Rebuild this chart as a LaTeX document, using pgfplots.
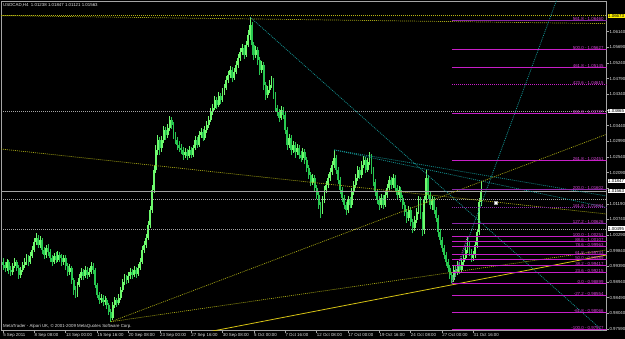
\documentclass[border=0pt]{standalone}
\usepackage{fontspec}
\setmainfont{Liberation Sans}
\usepackage{pgfplots}
\usepackage{pgfplotstable}
\pgfplotsset{compat=1.18}
\definecolor{bullc}{RGB}{110,250,110}
\definecolor{bearc}{RGB}{40,200,80}
\definecolor{tealc}{RGB}{20,150,150}
\definecolor{olivec}{RGB}{165,165,20}
\definecolor{goldc}{RGB}{215,195,20}
\definecolor{fibc}{RGB}{200,30,200}
\definecolor{fibd}{RGB}{140,40,170}
\definecolor{fibt}{RGB}{215,70,215}
\definecolor{gridg}{RGB}{165,165,165}
\definecolor{labc}{RGB}{225,225,225}
\newcommand{\tf}{\fontsize{4.4}{5}\selectfont}

\pgfplotstableread{
o h l c
0.9952 0.9963 0.9929 0.9943
0.9943 0.9952 0.9923 0.9935
0.9935 0.9961 0.9926 0.9952
0.9952 0.9958 0.9917 0.9929
0.9929 0.9940 0.9912 0.9923
0.9923 0.9949 0.9914 0.9940
0.9940 0.9963 0.9935 0.9952
0.9952 0.9958 0.9926 0.9935
0.9935 0.9943 0.9903 0.9914
0.9914 0.9937 0.9906 0.9929
0.9929 0.9952 0.9923 0.9943
0.9943 0.9963 0.9935 0.9952
0.9952 0.9975 0.9943 0.9963
0.9963 0.9972 0.9940 0.9952
0.9952 0.9981 0.9946 0.9969
0.9969 0.9998 0.9963 0.9986
0.9986 1.0021 0.9981 1.0009
1.0009 1.0035 1.0001 1.0021
1.0021 1.0029 0.9992 1.0001
1.0001 1.0027 0.9992 1.0015
1.0015 1.0021 0.9975 0.9986
0.9986 0.9995 0.9961 0.9972
0.9972 1.0001 0.9963 0.9992
0.9992 1.0004 0.9969 0.9981
0.9981 0.9989 0.9952 0.9963
0.9963 0.9972 0.9940 0.9952
0.9952 0.9978 0.9946 0.9969
0.9969 0.9981 0.9949 0.9958
0.9958 0.9983 0.9952 0.9972
0.9972 0.9981 0.9952 0.9963
0.9963 0.9975 0.9940 0.9952
0.9952 0.9972 0.9943 0.9963
0.9963 0.9972 0.9929 0.9940
0.9940 0.9949 0.9912 0.9923
0.9923 0.9946 0.9914 0.9935
0.9935 0.9940 0.9889 0.9900
0.9900 0.9906 0.9857 0.9871
0.9871 0.9883 0.9848 0.9860
0.9860 0.9894 0.9851 0.9886
0.9886 0.9917 0.9880 0.9906
0.9906 0.9935 0.9900 0.9923
0.9923 0.9932 0.9900 0.9912
0.9912 0.9940 0.9906 0.9929
0.9929 0.9937 0.9903 0.9914
0.9914 0.9935 0.9909 0.9923
0.9923 0.9952 0.9917 0.9940
0.9940 0.9949 0.9917 0.9929
0.9929 0.9935 0.9877 0.9886
0.9886 0.9891 0.9848 0.9857
0.9857 0.9866 0.9831 0.9843
0.9843 0.9860 0.9834 0.9848
0.9848 0.9857 0.9825 0.9837
0.9837 0.9854 0.9828 0.9843
0.9843 0.9848 0.9817 0.9828
0.9828 0.9834 0.9799 0.9808
0.9808 0.9817 0.9780 0.9791
0.9791 0.9837 0.9785 0.9828
0.9828 0.9851 0.9820 0.9843
0.9843 0.9848 0.9822 0.9834
0.9834 0.9860 0.9828 0.9848
0.9848 0.9880 0.9843 0.9871
0.9871 0.9903 0.9866 0.9894
0.9894 0.9917 0.9886 0.9906
0.9906 0.9914 0.9889 0.9900
0.9900 0.9923 0.9891 0.9912
0.9912 0.9935 0.9903 0.9923
0.9923 0.9932 0.9903 0.9914
0.9914 0.9940 0.9909 0.9929
0.9929 0.9937 0.9906 0.9917
0.9917 0.9946 0.9912 0.9935
0.9935 0.9963 0.9929 0.9952
0.9952 0.9998 0.9946 0.9986
0.9986 1.0012 0.9978 1.0001
1.0001 1.0032 0.9992 1.0021
1.0021 1.0070 1.0015 1.0058
1.0058 1.0113 1.0050 1.0101
1.0101 1.0173 1.0093 1.0159
1.0159 1.0231 1.0150 1.0216
1.0216 1.0288 1.0208 1.0274
1.0274 1.0317 1.0259 1.0303
1.0303 1.0311 1.0259 1.0280
1.0280 1.0314 1.0268 1.0303
1.0303 1.0343 1.0294 1.0331
1.0331 1.0340 1.0303 1.0317
1.0317 1.0349 1.0308 1.0337
1.0337 1.0372 1.0328 1.0360
1.0360 1.0369 1.0334 1.0346
1.0346 1.0354 1.0305 1.0317
1.0317 1.0326 1.0291 1.0303
1.0303 1.0311 1.0274 1.0288
1.0288 1.0300 1.0268 1.0280
1.0280 1.0291 1.0262 1.0274
1.0274 1.0282 1.0245 1.0259
1.0259 1.0280 1.0251 1.0268
1.0268 1.0277 1.0245 1.0257
1.0257 1.0285 1.0251 1.0274
1.0274 1.0282 1.0251 1.0259
1.0259 1.0288 1.0254 1.0280
1.0280 1.0314 1.0274 1.0303
1.0303 1.0311 1.0280 1.0288
1.0288 1.0328 1.0282 1.0317
1.0317 1.0337 1.0308 1.0326
1.0326 1.0334 1.0300 1.0308
1.0308 1.0343 1.0303 1.0331
1.0331 1.0357 1.0323 1.0346
1.0346 1.0372 1.0337 1.0360
1.0360 1.0395 1.0354 1.0383
1.0383 1.0406 1.0374 1.0395
1.0395 1.0429 1.0389 1.0418
1.0418 1.0426 1.0392 1.0403
1.0403 1.0441 1.0397 1.0429
1.0429 1.0438 1.0406 1.0418
1.0418 1.0452 1.0412 1.0441
1.0441 1.0464 1.0432 1.0452
1.0452 1.0487 1.0446 1.0475
1.0475 1.0501 1.0466 1.0489
1.0489 1.0515 1.0481 1.0504
1.0504 1.0512 1.0469 1.0481
1.0481 1.0510 1.0475 1.0498
1.0498 1.0530 1.0492 1.0518
1.0518 1.0550 1.0510 1.0538
1.0538 1.0567 1.0530 1.0556
1.0556 1.0579 1.0547 1.0567
1.0567 1.0576 1.0535 1.0547
1.0547 1.0587 1.0541 1.0576
1.0576 1.0619 1.0570 1.0604
1.0604 1.0656 1.0590 1.0633
1.0633 1.0642 1.0547 1.0576
1.0576 1.0584 1.0533 1.0547
1.0547 1.0573 1.0538 1.0561
1.0561 1.0570 1.0518 1.0533
1.0533 1.0541 1.0489 1.0504
1.0504 1.0530 1.0495 1.0518
1.0518 1.0527 1.0446 1.0461
1.0461 1.0469 1.0418 1.0432
1.0432 1.0458 1.0423 1.0446
1.0446 1.0475 1.0438 1.0461
1.0461 1.0487 1.0452 1.0475
1.0475 1.0481 1.0420 1.0432
1.0432 1.0441 1.0383 1.0395
1.0395 1.0403 1.0372 1.0383
1.0383 1.0392 1.0354 1.0366
1.0366 1.0400 1.0360 1.0389
1.0389 1.0397 1.0363 1.0374
1.0374 1.0383 1.0320 1.0331
1.0331 1.0340 1.0274 1.0288
1.0288 1.0320 1.0280 1.0308
1.0308 1.0317 1.0259 1.0274
1.0274 1.0300 1.0265 1.0288
1.0288 1.0297 1.0251 1.0268
1.0268 1.0291 1.0259 1.0280
1.0280 1.0288 1.0248 1.0259
1.0259 1.0271 1.0239 1.0251
1.0251 1.0280 1.0245 1.0268
1.0268 1.0277 1.0234 1.0245
1.0245 1.0254 1.0211 1.0222
1.0222 1.0231 1.0190 1.0202
1.0202 1.0211 1.0170 1.0182
1.0182 1.0205 1.0173 1.0193
1.0193 1.0202 1.0153 1.0165
1.0165 1.0173 1.0133 1.0144
1.0144 1.0153 1.0104 1.0116
1.0116 1.0124 1.0078 1.0096
1.0096 1.0142 1.0090 1.0130
1.0130 1.0170 1.0121 1.0159
1.0159 1.0185 1.0150 1.0173
1.0173 1.0205 1.0165 1.0193
1.0193 1.0222 1.0185 1.0211
1.0211 1.0242 1.0202 1.0231
1.0231 1.0274 1.0222 1.0251
1.0251 1.0259 1.0205 1.0216
1.0216 1.0225 1.0176 1.0188
1.0188 1.0196 1.0147 1.0159
1.0159 1.0167 1.0124 1.0136
1.0136 1.0144 1.0104 1.0116
1.0116 1.0124 1.0087 1.0101
1.0101 1.0142 1.0093 1.0130
1.0130 1.0139 1.0107 1.0116
1.0116 1.0165 1.0107 1.0153
1.0153 1.0185 1.0144 1.0173
1.0173 1.0205 1.0165 1.0193
1.0193 1.0228 1.0185 1.0216
1.0216 1.0225 1.0190 1.0202
1.0202 1.0242 1.0193 1.0231
1.0231 1.0257 1.0222 1.0245
1.0245 1.0254 1.0208 1.0216
1.0216 1.0251 1.0211 1.0239
1.0239 1.0268 1.0231 1.0257
1.0257 1.0262 1.0205 1.0216
1.0216 1.0225 1.0170 1.0182
1.0182 1.0190 1.0142 1.0153
1.0153 1.0162 1.0119 1.0130
1.0130 1.0142 1.0101 1.0116
1.0116 1.0147 1.0107 1.0136
1.0136 1.0144 1.0104 1.0116
1.0116 1.0156 1.0110 1.0144
1.0144 1.0176 1.0136 1.0165
1.0165 1.0199 1.0159 1.0188
1.0188 1.0196 1.0162 1.0173
1.0173 1.0205 1.0165 1.0193
1.0193 1.0202 1.0153 1.0165
1.0165 1.0173 1.0133 1.0144
1.0144 1.0170 1.0136 1.0159
1.0159 1.0167 1.0124 1.0136
1.0136 1.0144 1.0104 1.0116
1.0116 1.0124 1.0084 1.0096
1.0096 1.0104 1.0064 1.0078
1.0078 1.0113 1.0070 1.0101
1.0101 1.0110 1.0055 1.0067
1.0067 1.0075 1.0035 1.0050
1.0050 1.0084 1.0041 1.0073
1.0073 1.0107 1.0064 1.0096
1.0096 1.0142 1.0090 1.0130
1.0130 1.0139 1.0075 1.0087
1.0087 1.0096 1.0027 1.0044
1.0044 1.0142 1.0032 1.0130
1.0130 1.0216 1.0121 1.0193
1.0193 1.0202 1.0133 1.0144
1.0144 1.0153 1.0104 1.0116
1.0116 1.0142 1.0101 1.0130
1.0130 1.0139 1.0090 1.0101
1.0101 1.0110 1.0067 1.0078
1.0078 1.0087 1.0024 1.0038
1.0038 1.0047 1.0001 1.0015
1.0015 1.0024 0.9981 0.9992
0.9992 1.0001 0.9961 0.9972
0.9972 0.9981 0.9940 0.9952
0.9952 0.9961 0.9923 0.9935
0.9935 0.9943 0.9903 0.9914
0.9914 0.9923 0.9891 0.9900
0.9900 0.9940 0.9894 0.9929
0.9929 0.9940 0.9909 0.9923
0.9923 0.9955 0.9914 0.9943
0.9943 0.9952 0.9917 0.9929
0.9929 0.9963 0.9923 0.9952
0.9952 0.9975 0.9943 0.9963
0.9963 0.9998 0.9958 0.9986
0.9986 1.0026 0.9978 1.0001
1.0001 1.0009 0.9969 0.9981
0.9981 0.9989 0.9952 0.9963
0.9963 0.9983 0.9955 0.9972
0.9972 1.0012 0.9963 1.0001
1.0001 1.0047 0.9992 1.0038
1.0038 1.0136 1.0029 1.0124
1.01238 1.01847 1.01121 1.01563
}\candles

\pgfplotsset{
  dotl/.style={line width=0.7bp, dash pattern=on 1bp off 1bp},
  fibl/.style={draw=fibc, line width=1bp},
  fibp/.style={draw=fibd, line width=1bp},
}
\tikzset{fiblab/.style={anchor=south east, inner sep=0.2bp, text=fibt, font=\tf}}

\begin{document}
\begin{tikzpicture}
\useasboundingbox (0bp,0bp) rectangle (625bp,339bp);
\fill[black] (0bp,0bp) rectangle (625bp,339bp);
\begin{axis}[
  at={(1bp,8.5bp)}, anchor=south west,
  scale only axis, width=605.5bp, height=329.5bp,
  xmin=-1.02, xmax=307.9, ymin=0.97548, ymax=1.07021,
  axis line style={draw=gridg, line width=0.6bp},
  tick align=outside, major tick length=2.5bp,
  tick style={draw=gridg, line width=0.5bp},
  xtick pos=left, ytick pos=right, yticklabel pos=right,
  xtick={0,16,...,240},
  xticklabels={5 Sep 2011,8 Sep 08:00,13 Sep 00:00,15 Sep 16:00,20 Sep 08:00,23 Sep 00:00,27 Sep 16:00,30 Sep 08:00,5 Oct 00:00,7 Oct 16:00,12 Oct 08:00,17 Oct 00:00,19 Oct 16:00,24 Oct 08:00,27 Oct 00:00,31 Oct 16:00},
  ytick={0.9759,0.9804,0.9849,0.9894,0.9939,0.9984,1.0029,1.0074,1.0119,1.0164,1.0209,1.0254,1.0299,1.0344,1.0389,1.0434,1.0479,1.0524,1.0569,1.0614},
  yticklabels={0.97590,0.98040,0.98490,0.98940,0.99390,0.99840,1.00290,1.00740,1.01190,,1.02090,1.02540,1.02990,1.03440,,1.04340,1.04790,1.05240,1.05690,1.06140},
  xticklabel style={anchor=north west, font=\tf, text=labc, inner sep=0.4bp, xshift=-0.3bp},
  yticklabel style={anchor=west, font=\tf, text=labc, inner sep=0.3bp},
]
% candles: bear (close below open) then bull
\addplot[draw=bearc, quiver={u=0, v=\thisrow{h}-\thisrow{l}}, line width=0.8bp, restrict y to domain=0.5:1.5]
  table[x expr=\coordindex, y expr={\thisrow{c}<\thisrow{o} ? \thisrow{l} : -5}] {\candles};
\addplot[draw=bearc, quiver={u=0, v=\thisrow{c}-\thisrow{o}}, line width=1.9bp, line cap=butt, restrict y to domain=0.5:1.5]
  table[x expr=\coordindex, y expr={\thisrow{c}<\thisrow{o} ? \thisrow{o} : -5}] {\candles};
\addplot[draw=bullc, quiver={u=0, v=\thisrow{h}-\thisrow{l}}, line width=0.8bp, restrict y to domain=0.5:1.5]
  table[x expr=\coordindex, y expr={\thisrow{c}<\thisrow{o} ? -5 : \thisrow{l}}] {\candles};
\addplot[draw=bullc, quiver={u=0, v=\thisrow{c}-\thisrow{o}}, line width=1.9bp, line cap=butt, restrict y to domain=0.5:1.5]
  table[x expr=\coordindex, y expr={\thisrow{c}<\thisrow{o} ? -5 : \thisrow{o}}] {\candles};

% horizontal lines
\addplot[draw=olivec!80!yellow, dotl] coordinates {(-1.02,1.06620) (307.9,1.06620)};
\addplot[draw=olivec, dotl] coordinates {(-0.5,1.06599) (307.65,1.06371)};
\addplot[draw=gridg, dotl] coordinates {(-1.02,1.03839) (307.9,1.03839)};
\addplot[draw=gridg, dotl] coordinates {(-1.02,1.01320) (307.9,1.01320)};
\addplot[draw=gridg, dotl] coordinates {(-1.02,1.00458) (307.9,1.00458)};
\addplot[draw=gridg, line width=0.6bp] coordinates {(-1.02,1.01563) (307.9,1.01563)};

% trend lines
\addplot[draw=tealc, dotl] coordinates {(126,1.0656) (306.1,0.97534)};
\addplot[draw=tealc, dotl] coordinates {(229,0.9890) (282.65,1.0708)};
\addplot[draw=tealc, dotl] coordinates {(169,1.0274) (307.9,1.01086)};
\addplot[draw=tealc, dotl] coordinates {(169,1.0274) (307.9,1.01415)};
\addplot[draw=olivec, dotl] coordinates {(55,0.9780) (307.9,1.03189)};
\addplot[draw=olivec, dotl] coordinates {(55,0.9780) (307.9,0.99863)};
\addplot[draw=olivec, dotl] coordinates {(-1.02,1.02766) (307.9,1.00898)};
\addplot[draw=goldc, line width=0.8bp] coordinates {(100,0.97457) (307.9,0.99719)};
\addplot[draw=fibt, dotl] coordinates {(229,0.98899) (237,1.00251)};

% fibonacci levels
\addplot[fibp] coordinates {(229,1.06460) (307.9,1.06460)};
\addplot[fibl] coordinates {(229,1.05627) (307.9,1.05627)};
\addplot[fibl] coordinates {(229,1.05109) (307.9,1.05109)};
\addplot[fibl, dotl, line width=1bp] coordinates {(229,1.04620) (307.9,1.04620)};
\addplot[fibl] coordinates {(229,1.03787) (307.9,1.03787)};
\addplot[fibl] coordinates {(229,1.02435) (307.9,1.02435)};
\addplot[fibp] coordinates {(229,1.01602) (307.9,1.01602)};
\addplot[fibp, dotl, line width=1bp] coordinates {(229,1.01084) (307.9,1.01084)};
\addplot[fibp] coordinates {(229,1.00624) (307.9,1.00624)};
\addplot[fibl] coordinates {(229,1.00251) (307.9,1.00251)};
\addplot[fibl] coordinates {(229,1.00107) (307.9,1.00107)};
\addplot[fibl] coordinates {(229,0.99963) (307.9,0.99963)};
\addplot[fibl] coordinates {(229,0.99733) (307.9,0.99733)};
\addplot[fibl] coordinates {(229,0.99589) (307.9,0.99589)};
\addplot[fibl] coordinates {(229,0.99417) (307.9,0.99417)};
\addplot[fibl] coordinates {(229,0.99215) (307.9,0.99215)};
\addplot[fibl] coordinates {(229,0.98899) (307.9,0.98899)};
\addplot[fibl] coordinates {(229,0.98554) (307.9,0.98554)};
\addplot[fibl] coordinates {(229,0.98066) (307.9,0.98066)};
\addplot[fibl] coordinates {(229,0.97577) (307.9,0.97577)};

\node[fiblab] at (axis cs:306.6,1.06460) {561.8 - 1.06460};
\node[fiblab] at (axis cs:306.6,1.05627) {500.0 - 1.05627};
\node[fiblab] at (axis cs:306.6,1.05109) {461.8 - 1.05145};
\node[fiblab] at (axis cs:306.6,1.04620) {423.6 - 1.04615};
\node[fiblab] at (axis cs:306.6,1.03787) {361.8 - 1.03787};
\node[fiblab] at (axis cs:306.6,1.02435) {261.8 - 1.02451};
\node[fiblab] at (axis cs:306.6,1.01602) {200.0 - 1.01602};
\node[fiblab] at (axis cs:306.6,1.01084) {161.8 - 1.01084};
\node[fiblab] at (axis cs:306.6,1.00624) {127.2 - 1.00626};
\node[fiblab] at (axis cs:306.6,1.00251) {100.0 - 1.00251};
\node[fiblab] at (axis cs:306.6,1.00107) {88.6 - 1.00107};
\node[fiblab] at (axis cs:306.6,0.99963) {78.6 - 0.99963};
\node[fiblab] at (axis cs:306.6,0.99733) {61.8 - 0.99733};
\node[fiblab] at (axis cs:306.6,0.99589) {50.0 - 0.99589};
\node[fiblab] at (axis cs:306.6,0.99417) {38.2 - 0.99417};
\node[fiblab] at (axis cs:306.6,0.99215) {23.6 - 0.99215};
\node[fiblab] at (axis cs:306.6,0.98899) {0.0 - 0.98899};
\node[fiblab] at (axis cs:306.6,0.98554) {-27.2 - 0.98554};
\node[fiblab] at (axis cs:306.6,0.98066) {-61.8 - 0.98066};
\node[fiblab] at (axis cs:306.6,0.97577) {-100.0 - 0.97577};

\addplot[only marks, mark=square*, mark size=1.3bp, mark options={fill=white, draw=gridg}] coordinates {(251.5,1.01214)};
\end{axis}
% header / footer texts
\node[anchor=west, text=labc, font=\tf, inner sep=0pt] at (3bp,334bp) {USDCAD,H4\ \ 1.01238 1.01847 1.01121 1.01563};
\node[anchor=west, text=labc, font=\tf, inner sep=0pt] at (3bp,13bp) {MetaTrader - Alpari UK, © 2001-2009 MetaQuotes Software Corp.};
% price boxes on the right scale
\node[anchor=west, fill=yellow, text=black, font=\tf, inner sep=0.5bp] at (607.5bp,323.3bp) {1.06673};
\node[anchor=west, fill=white, text=black, font=\tf, inner sep=0.5bp] at (607.5bp,228.3bp) {1.03865};
\node[anchor=west, fill=white, text=black, font=\tf, inner sep=0.5bp] at (607.5bp,158bp) {1.01847};
\node[anchor=west, fill=white, text=black, font=\tf, inner sep=0.5bp] at (607.5bp,148.1bp) {1.01563};
\node[anchor=west, fill=white, text=black, font=\tf, inner sep=0.5bp] at (607.5bp,110.5bp) {1.00495};
\end{tikzpicture}
\end{document}
